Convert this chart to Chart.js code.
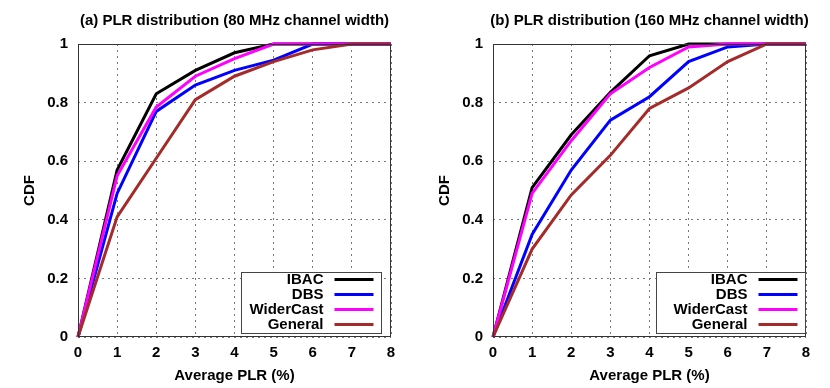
<!DOCTYPE html>
<html><head><meta charset="utf-8">
<script src="https://cdn.jsdelivr.net/npm/chart.js@4/dist/chart.umd.min.js"></script>
<style>
html,body{margin:0;padding:0;background:#fff;}
#wrap{position:relative;width:830px;height:388px;}
canvas{position:absolute;top:0;}
</style></head><body>
<div id="wrap">
<canvas id="c1" width="415" height="388" style="left:0"></canvas>
<canvas id="c2" width="415" height="388" style="left:415px"></canvas>
</div>
<script>
const xLabels = [0, 1, 2, 3, 4, 5, 6, 7, 8];
const yTicks = [0, 0.2, 0.4, 0.6, 0.8, 1];
const seriesNames = ["IBAC", "DBS", "WiderCast", "General"];
const titleA = "(a) PLR distribution (80 MHz channel width)";
const titleB = "(b) PLR distribution (160 MHz channel width)";
const xTitle = "Average PLR (%)";
const yTitle = "CDF";

// Panel (a): 80 MHz
const ibac80      = [0, 0.57, 0.83, 0.91, 0.97, 1.00, 1.00, 1.00, 1.00];
const dbs80       = [0, 0.49, 0.77, 0.86, 0.91, 0.945, 1.00, 1.00, 1.00];
const widercast80 = [0, 0.55, 0.785, 0.89, 0.95, 1.00, 1.00, 1.00, 1.00];
const general80   = [0, 0.41, 0.61, 0.81, 0.89, 0.94, 0.98, 1.00, 1.00];

// Panel (b): 160 MHz
const ibac160      = [0, 0.51, 0.69, 0.835, 0.96, 1.00, 1.00, 1.00, 1.00];
const dbs160       = [0, 0.35, 0.57, 0.74, 0.82, 0.94, 0.99, 1.00, 1.00];
const widercast160 = [0, 0.49, 0.67, 0.83, 0.92, 0.99, 1.00, 1.00, 1.00];
const general160   = [0, 0.30, 0.485, 0.62, 0.78, 0.85, 0.94, 1.00, 1.00];

const colors = ["#000000", "#0000ff", "#ff00ff", "#a52a2a"];
const FONT = "'Liberation Sans', Arial, Helvetica, sans-serif";

function makeChart(id, title, data, legendRightOffset, legendWidth) {
  const sets = data.map((vals, i) => ({
    label: seriesNames[i],
    data: vals.map((v, j) => ({x: xLabels[j], y: v})),
    borderColor: colors[i],
    backgroundColor: colors[i],
    borderWidth: 3,
    pointRadius: 0,
    tension: 0,
    clip: 6,
    order: 4 - i
  }));
  const overlay = {
    id: 'overlay',
    afterDraw(chart) {
      const ctx = chart.ctx, a = chart.chartArea;
      ctx.save();
      ctx.fillStyle = '#000';
      ctx.font = "bold 15px " + FONT;
      ctx.textAlign = 'center'; ctx.textBaseline = 'middle';
      ctx.fillText(title, (a.left + a.right) / 2, 21);
      ctx.fillText(xTitle, (a.left + a.right) / 2, 376);
      ctx.save();
      ctx.translate(30, (a.top + a.bottom) / 2);
      ctx.rotate(-Math.PI / 2);
      ctx.fillText(yTitle, 0, 0);
      ctx.restore();
      // border
      ctx.strokeStyle = '#333'; ctx.lineWidth = 1;
      ctx.strokeRect(a.left + 0.5, a.top + 0.5, a.right - a.left - 1, a.bottom - a.top - 1);
      // legend
      const bw = legendWidth;
      const bx = Math.round(a.right - legendRightOffset - bw) + 0.5, by = 272.5, bh = 61;
      ctx.fillStyle = '#fff';
      ctx.fillRect(bx, by, bw, bh);
      ctx.strokeStyle = '#444'; ctx.lineWidth = 1;
      ctx.strokeRect(bx, by, bw, bh);
      ctx.textAlign = 'right'; ctx.textBaseline = 'middle';
      const lineR = bx + bw - 8, lineL = lineR - 39, textR = lineL - 11;
      seriesNames.forEach((n, i) => {
        const y = by + 7 + i * 15;
        ctx.fillStyle = '#000';
        ctx.fillText(n, textR, y);
        ctx.strokeStyle = colors[i]; ctx.lineWidth = 3;
        ctx.beginPath(); ctx.moveTo(lineL, y); ctx.lineTo(lineR, y); ctx.stroke();
      });
      ctx.restore();
    }
  };
  return new Chart(document.getElementById(id), {
    type: 'line',
    data: {datasets: sets},
    options: {
      responsive: false,
      animation: false,
      events: [],
      layout: {padding: {top: 44, right: 24, bottom: 0, left: 0}},
      plugins: {legend: {display: false}, tooltip: {enabled: false}, title: {display: false}},
      scales: {
        x: {
          type: 'linear', min: 0, max: 8,
          afterFit(s) { s.height = 51; },
          afterBuildTicks(s) { s.ticks = xLabels.map(v => ({value: v})); },
          grid: {color: '#777', lineWidth: 1, drawTicks: false},
          border: {display: false, dash: [2, 4]},
          ticks: {color: '#000', font: {family: FONT, size: 15, weight: 'bold'}, padding: 7, maxRotation: 0}
        },
        y: {
          min: 0, max: 1,
          afterFit(s) { s.width = 78; },
          afterBuildTicks(s) { s.ticks = yTicks.map(v => ({value: v})); },
          grid: {color: '#777', lineWidth: 1, drawTicks: false},
          border: {display: false, dash: [2, 4]},
          ticks: {color: '#000', font: {family: FONT, size: 15, weight: 'bold'}, padding: 10,
                  callback: v => String(Math.round(v * 10) / 10)}
        }
      }
    },
    plugins: [overlay]
  });
}

makeChart('c1', titleA, [ibac80, dbs80, widercast80, general80], 10, 140);
makeChart('c2', titleB, [ibac160, dbs160, widercast160, general160], 1, 149);
</script>
</body></html>
